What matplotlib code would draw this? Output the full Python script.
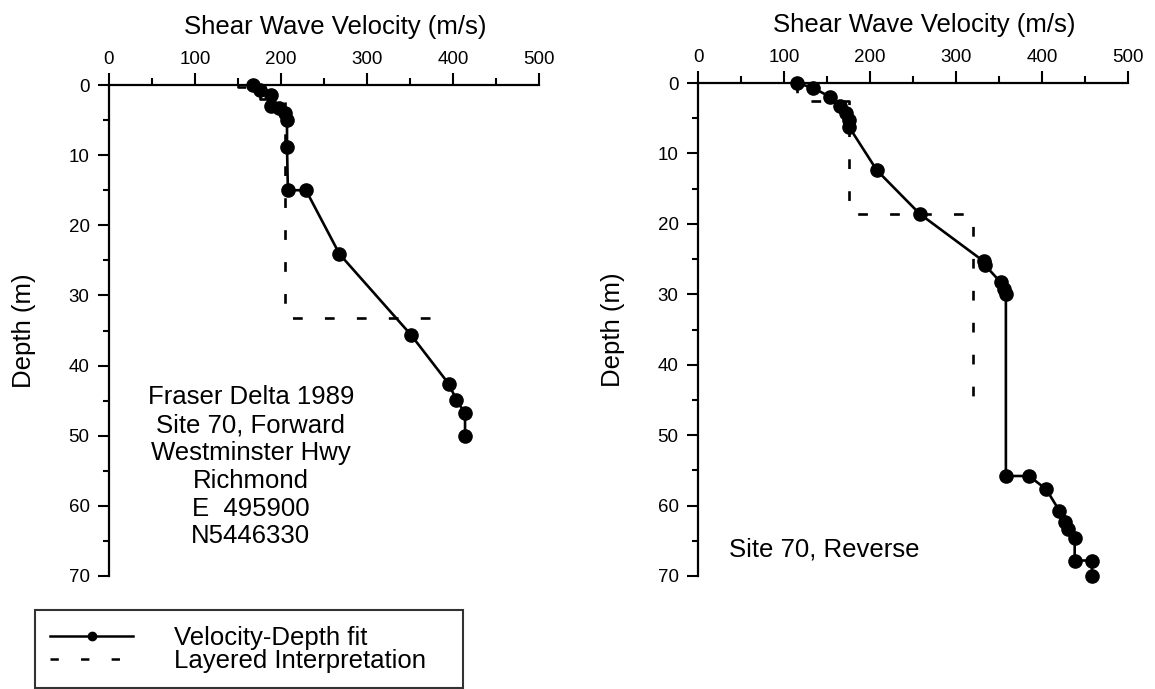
import matplotlib
matplotlib.use("Agg")
import matplotlib.pyplot as plt
from matplotlib.lines import Line2D
from matplotlib.ticker import MultipleLocator

plt.rcParams["font.family"] = ["Liberation Sans", "DejaVu Sans"]
plt.rcParams["lines.scale_dashes"] = False

# Site 70, forward profile
fwd_vel = [167, 176, 188, 188, 198, 205, 207, 207, 208, 229, 268, 351, 395, 404, 414, 414]
fwd_depth = [0.0, 0.7, 1.4, 3.0, 3.3, 4.0, 5.0, 8.8, 15.0, 15.0, 24.1, 35.6, 42.6, 44.9, 46.8, 50.1]
fwd_layer_vel = [150, 150, 176, 176, 205, 205, 375]
fwd_layer_depth = [0.0, 0.3, 0.3, 2.0, 2.0, 33.2, 33.2]

# Site 70, reverse profile
rev_vel = [115, 134, 154, 165, 172, 175, 176, 208, 258, 332, 334, 352, 356, 358,
           358, 385, 405, 420, 427, 430, 438, 438, 458, 458]
rev_depth = [0.0, 0.7, 2.0, 3.2, 4.3, 5.2, 6.3, 12.4, 18.6, 25.3, 25.9, 28.3, 29.3, 29.9,
             55.8, 55.8, 57.7, 60.7, 62.4, 63.3, 64.6, 67.8, 67.8, 70.0]
rev_layer_vel = [115, 115, 175, 175, 320, 320]
rev_layer_depth = [0.0, 2.5, 2.5, 18.6, 18.6, 46.7]

W, H = 1155, 689
fig = plt.figure(figsize=(W / 100, H / 100), dpi=100)

ax1 = fig.add_axes([109 / W, (H - 576) / H, 430 / W, 491 / H])
ax2 = fig.add_axes([698 / W, (H - 576) / H, 430 / W, 493 / H])

DASH = (0, (7, 16))


def style_axis(ax):
    ax.set_xlim(0, 500)
    ax.set_ylim(70, 0)
    ax.xaxis.tick_top()
    ax.xaxis.set_label_position("top")
    ax.spines["right"].set_visible(False)
    ax.spines["bottom"].set_visible(False)
    for s in ("top", "left"):
        ax.spines[s].set_linewidth(1.6)
    ax.xaxis.set_major_locator(MultipleLocator(100))
    ax.xaxis.set_minor_locator(MultipleLocator(50))
    ax.yaxis.set_major_locator(MultipleLocator(10))
    ax.yaxis.set_minor_locator(MultipleLocator(5))
    ax.tick_params(axis="x", which="major", direction="out", length=9, width=1.5,
                   labelsize=13.5, pad=3)
    ax.tick_params(axis="x", which="minor", direction="out", length=5, width=1.5)
    ax.tick_params(axis="y", which="major", direction="out", length=8, width=1.5,
                   labelsize=13.5, pad=6)
    ax.tick_params(axis="y", which="minor", direction="out", length=4, width=1.5)
    ax.set_xlabel("Shear Wave Velocity (m/s)", fontsize=18.5)
    ax.set_ylabel("Depth (m)", fontsize=18.5)
    ax.xaxis.set_label_coords(0.525, 1.103)
    ax.yaxis.set_label_coords(-0.17, 0.5)


for ax in (ax1, ax2):
    style_axis(ax)

ax1.plot(fwd_layer_vel, fwd_layer_depth, color="black", lw=1.9, linestyle=DASH, clip_on=False)
ax1.plot(fwd_vel, fwd_depth, color="black", lw=1.9, marker="o", ms=9.5, clip_on=False)
ax2.plot(rev_layer_vel, rev_layer_depth, color="black", lw=1.9, linestyle=DASH, clip_on=False)
ax2.plot(rev_vel, rev_depth, color="black", lw=1.9, marker="o", ms=9.5, clip_on=False)

ax1.text(0.33, 0.388,
         "Fraser Delta 1989\nSite 70, Forward\nWestminster Hwy\nRichmond\nE  495900\nN5446330",
         transform=ax1.transAxes, ha="center", va="top", fontsize=18.5, linespacing=1.2)
ax2.text(0.072, 0.053, "Site 70, Reverse", transform=ax2.transAxes,
         ha="left", va="center", fontsize=18.5)

handles = [
    Line2D([], [], color="black", lw=1.8, marker="o", ms=6),
    Line2D([], [], color="black", lw=1.8, linestyle=(0, (6, 16))),
]
leg = fig.legend(handles, ["Velocity-Depth fit", "Layered Interpretation"],
                 loc="lower left", bbox_to_anchor=(35 / W, 1 / H, 428 / W, 76 / H),
                 mode="expand", borderaxespad=0, fontsize=18.5, handlelength=3.2,
                 handletextpad=1.6, labelspacing=-0.05, borderpad=0.6, numpoints=1,
                 frameon=True, fancybox=False)
leg.get_frame().set_edgecolor("black")
leg.get_frame().set_linewidth(1.5)

fig.savefig("out.png", dpi=100, facecolor="white")
